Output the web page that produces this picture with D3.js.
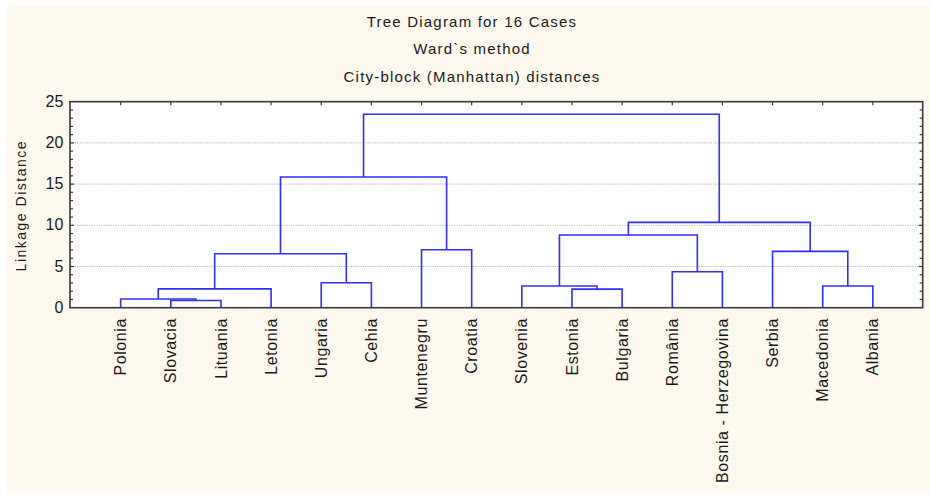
<!DOCTYPE html>
<html>
<head>
<meta charset="utf-8">
<script src="https://cdn.jsdelivr.net/npm/d3@7"></script>
<style>
  html, body { margin: 0; padding: 0; background: #ffffff; }
  svg { display: block; }
  text { font-family: "Liberation Sans", Arial, sans-serif; fill: #1a1a1a; }
</style>
</head>
<body>
<script>
// ---- Data ----
const titleLines = ["Tree Diagram for 16 Cases", "Ward`s method", "City-block (Manhattan) distances"];
const yLabel = "Linkage Distance";
const leaves = ["Polonia", "Slovacia", "Lituania", "Letonia", "Ungaria", "Cehia", "Muntenegru", "Croatia",
                "Slovenia", "Estonia", "Bulgaria", "România", "Bosnia - Herzegovina", "Serbia", "Macedonia", "Albania"];
// merges: [leftNode, rightNode, linkage distance]; nodes 0..15 = leaves, 16.. = clusters in this order
const mergeLeft   = [1, 0, 17, 4, 18, 6, 20, 9, 8, 11, 24, 14, 13, 26, 22];
const mergeRight  = [2, 16, 3, 5, 19, 7, 21, 10, 23, 12, 25, 15, 27, 28, 29];
const mergeHeight = [0.88, 1.06, 2.29, 3.03, 6.55, 7.04, 15.86, 2.25, 2.63, 4.37, 8.82, 2.63, 6.84, 10.36, 23.47];
const yTicks = [0, 5, 10, 15, 20, 25];
const yGrid = [5, 10, 15, 20];

// ---- Layout ----
const W = 930, H = 495;
const plot = { left: 70, right: 922.7, top: 101.7, bottom: 307.7 };

const svg = d3.select("body").append("svg").attr("width", W).attr("height", H);

// backgrounds
svg.append("rect").attr("x", 0).attr("y", 0).attr("width", W).attr("height", H).attr("fill", "#ffffff");
svg.append("rect").attr("x", 7).attr("y", 5).attr("width", W - 7).attr("height", 488).attr("fill", "#fef9ee");
svg.append("rect").attr("x", plot.left).attr("y", plot.top)
   .attr("width", plot.right - plot.left).attr("height", plot.bottom - plot.top).attr("fill", "#ffffff");

const x = d3.scalePoint().domain(d3.range(leaves.length)).range([plot.left + 0.5, plot.right + 0.3]).padding(1);
const y = d3.scaleLinear().domain([0, 25]).range([plot.bottom, plot.top]);

// grid
svg.append("g").selectAll("line").data(yGrid).join("line")
  .attr("x1", plot.left).attr("x2", plot.right)
  .attr("y1", d => y(d)).attr("y2", d => y(d))
  .attr("stroke", "#b4b4b4").attr("stroke-width", 1).attr("stroke-dasharray", "1.2,1.2");

// titles
svg.append("g").selectAll("text").data(titleLines).join("text")
  .attr("x", 472).attr("y", (d, i) => 26.7 + i * 27.5)
  .attr("text-anchor", "middle").attr("font-size", 15).attr("letter-spacing", 1.2)
  .text(d => d);

// dendrogram
const nodeX = leaves.map((d, i) => x(i));
const nodeH = leaves.map(() => 0);
const links = [];
mergeLeft.forEach((l, k) => {
  const r = mergeRight[k], h = mergeHeight[k];
  links.push({ x1: nodeX[l], h1: nodeH[l], x2: nodeX[r], h2: nodeH[r], h });
  nodeX.push((nodeX[l] + nodeX[r]) / 2);
  nodeH.push(h);
});
svg.append("g").selectAll("path").data(links).join("path")
  .attr("d", d => `M${d.x1},${y(d.h1)}V${y(d.h)}H${d.x2}V${y(d.h2)}`)
  .attr("fill", "none").attr("stroke", "#2f2fff").attr("stroke-width", 1.6);

// frame
svg.append("rect").attr("x", plot.left).attr("y", plot.top)
   .attr("width", plot.right - plot.left).attr("height", plot.bottom - plot.top)
   .attr("fill", "none").attr("stroke", "#3a3a3a").attr("stroke-width", 1.6);

// ticks: left and right minor ticks every 1 unit (inward)
const minor = d3.range(1, 25);
const tk = svg.append("g").attr("stroke", "#3a3a3a").attr("stroke-width", 1.2);
tk.selectAll("line.l").data(minor).join("line").attr("class", "l")
  .attr("x1", plot.left).attr("x2", d => plot.left + (d % 5 === 0 ? 4 : 3))
  .attr("y1", d => y(d)).attr("y2", d => y(d));
tk.selectAll("line.r").data(minor).join("line").attr("class", "r")
  .attr("x1", plot.right).attr("x2", d => plot.right - (d % 5 === 0 ? 4 : 3))
  .attr("y1", d => y(d)).attr("y2", d => y(d));
tk.selectAll("line.t").data(d3.range(leaves.length)).join("line").attr("class", "t")
  .attr("x1", d => x(d)).attr("x2", d => x(d))
  .attr("y1", plot.top).attr("y2", plot.top + 3.5);

// y tick labels
svg.append("g").selectAll("text").data(yTicks).join("text")
  .attr("x", 63.3).attr("y", d => y(d) + 5)
  .attr("text-anchor", "end").attr("font-size", 16)
  .text(d => d);

// y axis title
svg.append("text")
  .attr("transform", `translate(25.5,${(plot.top + plot.bottom) / 2 + 1}) rotate(-90)`)
  .attr("text-anchor", "middle").attr("font-size", 14).attr("letter-spacing", 1.5)
  .text(yLabel);

// leaf labels
svg.append("g").selectAll("text").data(leaves).join("text")
  .attr("transform", (d, i) => `translate(${x(i)},318) rotate(-90)`)
  .attr("dy", "0.35em")
  .attr("text-anchor", "end").attr("font-size", 16).attr("letter-spacing", 0.6)
  .text(d => d);
</script>
</body>
</html>
